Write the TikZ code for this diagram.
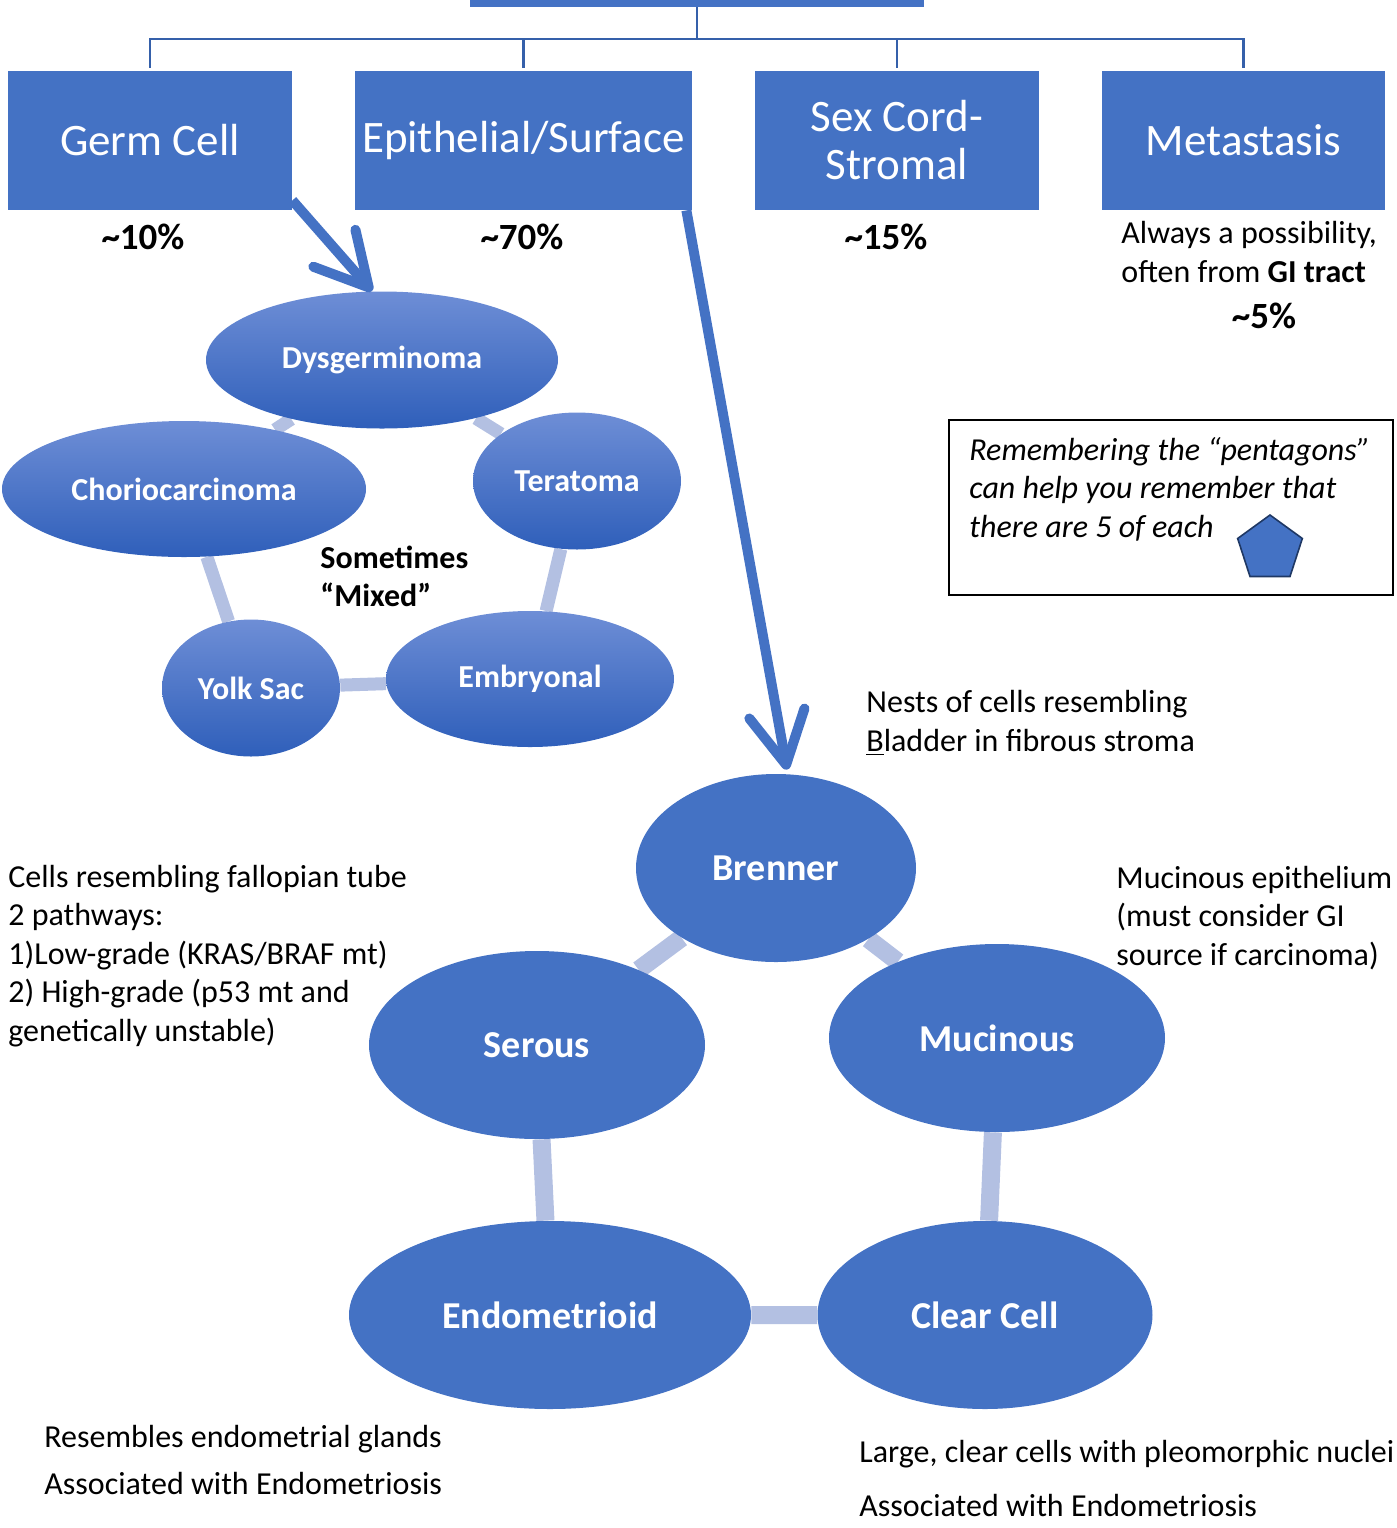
\documentclass[tikz,border=0pt]{standalone}
\usepackage{fontspec}
\setmainfont{Carlito}
\usepackage{tikz}
\usetikzlibrary{arrows.meta,shapes.geometric,backgrounds}
\usepackage{xcolor}
\definecolor{myblue}{HTML}{4472C4}
\definecolor{treeblue}{HTML}{3560AA}
\definecolor{spokeblue}{HTML}{B3C0E2}
\definecolor{gtop}{HTML}{6E8ED6}
\definecolor{gbot}{HTML}{2F5FBA}
\definecolor{pentaedge}{HTML}{1F3864}
\tikzstyle{cat box}=[rectangle,fill=myblue,text=white,inner sep=0,minimum height=69.5pt,align=center,font=\fontsize{22.5}{24}\selectfont]
\tikzstyle{germ oval}=[ellipse,inner sep=0,top color=gtop,bottom color=gbot,text=white,font=\fontsize{16}{18}\selectfont\bfseries]
\tikzstyle{epi oval}=[ellipse,inner sep=0,fill=myblue,text=white,font=\fontsize{19}{22}\selectfont\bfseries]
\tikzstyle{tree}=[treeblue,line width=1.2pt]
\tikzstyle{spoke}=[spokeblue,line width=6.5pt]
\tikzstyle{spoke wide}=[spokeblue,line width=9pt]
\tikzstyle{flow}=[-{Straight Barb[length=26pt,width=28pt,round]},line width=5pt,myblue]
\tikzstyle{note}=[inner sep=0,anchor=west,align=left,font=\fontsize{16}{19.25}\selectfont]
\tikzstyle{pct}=[inner sep=0,font=\fontsize{18.5}{22}\selectfont\bfseries]

\begin{document}
\begin{tikzpicture}[x=0.5pt,y=-0.5pt]
  \useasboundingbox (0,0) rectangle (1397,1528);

  % top level categories
  \node[cat box,minimum width=227pt,minimum height=40pt] (root) at (697,-33) {};
  \node[cat box,minimum width=142pt] (germ) at (150,140.5) {Germ Cell};
  \node[cat box,minimum width=168.5pt] (epi) at (523.5,140.5) {Epithelial/Surface};
  \node[cat box,minimum width=142pt] (sex) at (897,140.5) {Sex Cord-\\Stromal};
  \node[cat box,minimum width=141.5pt] (meta) at (1243.5,140.5) {Metastasis};

  \coordinate (hub) at (697,39);
  \draw[tree] (root.south) -- (hub);
  \foreach \c in {germ,epi,sex,meta}{ \draw[tree] (hub) -| ([yshift=1.5pt]\c.north); }

  \node[pct] (p10) at (143,237) {\textasciitilde10\%};
  \node[pct] (p70) at (522,237) {\textasciitilde70\%};
  \node[pct] (p15) at (886,237) {\textasciitilde15\%};
  \node[note] (metanote) at (1121,252) {Always a possibility,\\often from \textbf{GI tract}};
  \node[pct] (p5) at (1264,316) {\textasciitilde5\%};

  % germ cell pentagon
  \node[germ oval,minimum width=176pt,minimum height=68.5pt] (dysg) at (382,360) {Dysgerminoma};
  \node[germ oval,minimum width=182pt,minimum height=68pt] (chorio) at (184,489) {Choriocarcinoma};
  \node[germ oval,minimum width=104pt,minimum height=68.5pt] (terat) at (577,481) {Teratoma};
  \node[germ oval,minimum width=89pt,minimum height=68.5pt] (yolk) at (251,688) {Yolk Sac};
  \node[germ oval,minimum width=144pt,minimum height=68pt] (embr) at (530,679) {Embryonal};
  \begin{scope}[on background layer]
    \draw[spoke] (dysg) -- (chorio) -- (yolk) -- (embr) -- (terat) -- (dysg);
  \end{scope}
  \node[inner sep=0,anchor=west,align=left,font=\fontsize{16}{19}\selectfont\bfseries] (mixed) at (320,576) {Sometimes\\“Mixed”};

  % epithelial pentagon
  \node[epi oval,minimum width=140pt,minimum height=94pt] (brenner) at (776,868) {Brenner};
  \node[epi oval,minimum width=168pt,minimum height=94pt] (serous) at (537,1045) {Serous};
  \node[epi oval,minimum width=168pt,minimum height=94pt] (mucin) at (997,1038) {Mucinous};
  \node[epi oval,minimum width=201pt,minimum height=94pt] (endom) at (550,1315) {Endometrioid};
  \node[epi oval,minimum width=167.5pt,minimum height=94pt] (clear) at (985,1315) {Clear Cell};
  \begin{scope}[on background layer]
    \draw[spoke wide] (brenner) -- (serous) -- (endom) -- (clear) -- (mucin) -- (brenner);
  \end{scope}

  \draw[flow] ([yshift=5pt]germ.south east) -- ([xshift=-5pt]dysg.north);
  \draw[flow] ([xshift=-3pt]epi.south east) -- ([xshift=5.5pt,yshift=2pt]brenner.north);

  % descriptions
  \node[note,font=\fontsize{16}{19.5}\selectfont] (brennernote) at (866,722.5) {Nests of cells resembling\\\underline{B}ladder in fibrous stroma};
  \node[note] (serousnote) at (8,956) {Cells resembling fallopian tube\\2 pathways:\\1)Low-grade (KRAS/BRAF mt)\\2) High-grade (p53 mt and\\genetically unstable)};
  \node[note] (mucinnote) at (1116,918) {Mucinous epithelium\\(must consider GI\\source if carcinoma)};
  \node[note,font=\fontsize{16}{23.5}\selectfont] (endomnote) at (44,1459.5) {Resembles endometrial glands\\Associated with Endometriosis};
  \node[note,font=\fontsize{16}{27}\selectfont] (clearnote) at (859,1478) {Large, clear cells with pleomorphic nuclei\\Associated with Endometriosis};

  % reminder box
  \node[draw,line width=0.8pt,minimum width=222pt,minimum height=87.5pt,inner sep=0] (memo) at (1171,507.5) {};
  \node[note,font=\fontsize{16}{19.25}\selectfont\itshape] (memotext) at (969,489) {Remembering the “pentagons”\\can help you remember that\\there are 5 of each};
  \node[regular polygon,regular polygon sides=5,fill=myblue,draw=pentaedge,line width=0.8pt,minimum size=34pt,inner sep=0] (penta) at (1270,549) {};
\end{tikzpicture}
\end{document}
